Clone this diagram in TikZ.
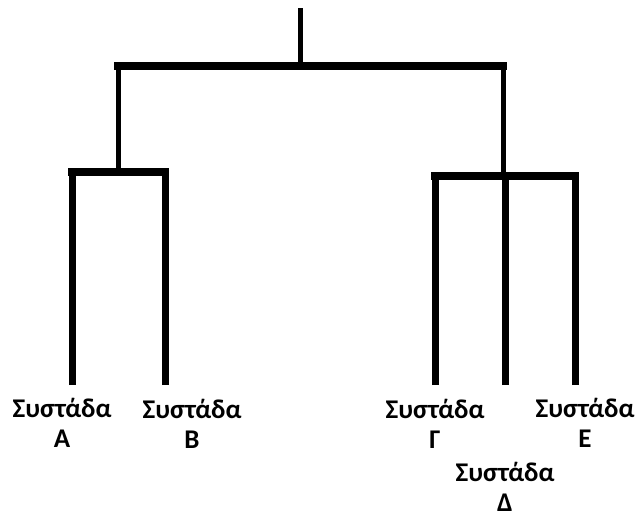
\documentclass[tikz,border=0pt]{standalone}
\usepackage{fontspec}
\setmainfont{Carlito}

\tikzset{
  bar/.style={line width=8pt, line cap=rect},
  stem/.style={line width=5pt},
  leaf/.style={line width=7pt},
  lbl/.style={font=\bfseries\fontsize{27}{30}\selectfont, align=center, inner sep=0pt}
}

\begin{document}
\begin{tikzpicture}[x=1pt,y=-1pt]
\useasboundingbox (0,0) rectangle (636,517);
% labels under the leaves
\path node (clA) at (62,423) [lbl] {Συστάδα\\Α}
node (clB) at (192,424) [lbl] {Συστάδα\\Β}
node (clG) at (435,424) [lbl] {Συστάδα\\Γ}
node (clE) at (585,423) [lbl] {Συστάδα\\Ε}
node (clD) at (505,487) [lbl] {Συστάδα\\Δ};
% joints of the tree
\path coordinate (top) at (300,8)
coordinate (j0) at (300,66)
coordinate (j1) at (118,66)
coordinate (j2) at (503,66)
coordinate (g1) at (118,172)
coordinate (g2) at (503,176)
coordinate (a) at (72,385)
coordinate (b) at (165,385)
coordinate (c) at (435,385)
coordinate (d) at (505,385)
coordinate (e) at (575,385);
\draw[stem] (top) -- (j0);
\draw[bar] (j1) -- (j2);
\draw[stem] (j1) -- (g1);
\draw[stem] (j2) -- (g2);
\draw[bar] (a |- g1) -- (b |- g1);
\draw[bar] (c |- g2) -- (e |- g2);
\draw[leaf] (a) -- (a |- g1);
\draw[leaf] (b) -- (b |- g1);
\draw[leaf] (c) -- (c |- g2);
\draw[leaf] (d) -- (d |- g2);
\draw[leaf] (e) -- (e |- g2);
\end{tikzpicture}
\end{document}
